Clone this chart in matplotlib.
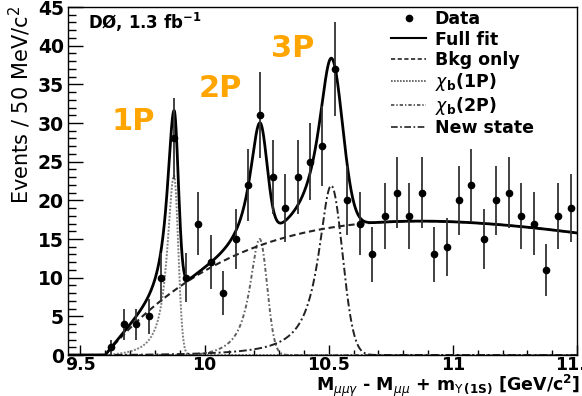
import numpy as np
import matplotlib
matplotlib.use("Agg")
import matplotlib.pyplot as plt
from matplotlib.lines import Line2D
from matplotlib.ticker import MultipleLocator

# histogram: 50 MeV bins starting at 9.45 GeV
bin_lo = 9.45
bin_width = 0.05
counts = [0, 0, 0, 1, 4, 4, 5, 10, 28, 10,
          17, 12, 8, 15, 22, 31, 23, 19, 23, 25,
          27, 37, 20, 17, 13, 18, 21, 18, 21, 13,
          14, 20, 22, 15, 20, 21, 18, 17, 11, 18,
          19]

# fit parameters: threshold background x0, norm, power, slope
bkg_par = [9.60, 36.8, 0.99, 0.78]
# peaks: mass, height, left width (Lorentz), right width (Gauss), low edge
chib1_par = [9.877, 23.2, 0.033, 0.017, 9.60]
chib2_par = [10.222, 15.0, 0.0486, 0.0296, 9.95]
new_par = [10.510, 21.9, 0.062, 0.045, 9.61]

x_range = [9.45, 11.5]
y_range = [0, 45]


def bkg_shape(x, x0, norm, power, slope):
    t = np.clip(x - x0, 0, None)
    return norm * t**power * np.exp(-slope * t)


def peak_shape(x, mass, height, gam, sig, lo):
    d = x - mass
    edge = 1.0 / (1.0 + ((lo - mass) / gam)**2)
    left = (1.0 / (1.0 + (d / gam)**2) - edge) / (1.0 - edge)
    left = np.clip(left, 0, None)
    right = np.exp(-0.5 * (d / sig)**2)
    return height * np.where(d < 0, left, right)


counts = np.array(counts, dtype=float)
centers = bin_lo + bin_width * (np.arange(len(counts)) + 0.5)
filled = counts > 0

xf = np.linspace(x_range[0], x_range[1], 4000)
bkg = bkg_shape(xf, *bkg_par)
c1 = peak_shape(xf, *chib1_par)
c2 = peak_shape(xf, *chib2_par)
c3 = peak_shape(xf, *new_par)
full = bkg + c1 + c2 + c3

fig = plt.figure(figsize=(5.82, 3.96), dpi=100)
ax = fig.add_axes([0.1168, 0.1035, 0.8746, 0.8788])

ax.plot(xf, c1, color="#808080", lw=1.4, ls=(0, (1, 0.8)))
ax.plot(xf, c2, color="#606060", lw=1.4, ls=(0, (2, 1.2, 0.8, 1.2)))
ax.plot(xf, c3, color="#222222", lw=1.4, ls=(0, (4, 1.5, 1, 1.5)))
ax.plot(xf, bkg, color="#222222", lw=1.5, ls=(0, (3, 1.8)))
ax.plot(xf, full, color="black", lw=2.0)

ax.errorbar(centers[filled], counts[filled], yerr=np.sqrt(counts[filled]),
            fmt="o", color="black", ecolor="#333333", ms=4.5, elinewidth=1.3,
            capsize=0, zorder=5)

ax.set_xlim(x_range)
ax.set_ylim(y_range)
ax.xaxis.set_major_locator(MultipleLocator(0.5))
ax.xaxis.set_minor_locator(MultipleLocator(0.1))
ax.yaxis.set_major_locator(MultipleLocator(5))
ax.yaxis.set_minor_locator(MultipleLocator(1))
ax.xaxis.set_major_formatter(plt.FuncFormatter(lambda v, p: f"{v:g}"))
ax.tick_params(which="both", direction="in", top=False, right=False,
               labelsize=13.5, width=1.0, colors="black")
ax.tick_params(axis="y", which="major", length=11, pad=3)
ax.tick_params(axis="y", which="minor", length=5.5)
ax.tick_params(axis="x", which="major", length=7, pad=1.0, labelsize=12.5)
ax.tick_params(axis="x", which="minor", length=3.5)
for lab in ax.get_xticklabels() + ax.get_yticklabels():
    lab.set_fontweight("bold")
for sp in ax.spines.values():
    sp.set_linewidth(1.0)

fig.text(580 / 582, 1 - 386 / 396,
         r"M$_{\mu\mu\gamma}$ - M$_{\mu\mu}$ + m$_{\Upsilon\,\mathbf{(1S)}}$ [GeV/c$^{\mathbf{2}}$]",
         ha="right", va="center", fontsize=12.5, fontweight="bold")
fig.text(20 / 582, 1 - 6 / 396, r"Events / 50 MeV/c$^{2}$",
         rotation=90, ha="center", va="top", fontsize=15)

ax.text(0.039, 0.955, r"DØ, 1.3 fb$^{\mathbf{-1}}$", transform=ax.transAxes,
        ha="left", va="center", fontsize=12, fontweight="bold")

orange = "#FFA500"
for lab, px, py in [("1P", 0.128, 0.672), ("2P", 0.299, 0.765), ("3P", 0.442, 0.880)]:
    ax.text(px, py, lab, transform=ax.transAxes, ha="center", va="center",
            fontsize=22, fontweight="bold", color=orange)

handles = [
    Line2D([], [], ls="none", marker="o", ms=4.5, color="black"),
    Line2D([], [], color="black", lw=1.5),
    Line2D([], [], color="#222222", lw=1.2, ls=(0, (2.5, 1.5))),
    Line2D([], [], color="#555555", lw=1.2, ls=(0, (1, 0.8))),
    Line2D([], [], color="#444444", lw=1.2, ls=(0, (2, 1.2, 0.8, 1.2))),
    Line2D([], [], color="#222222", lw=1.2, ls=(0, (4, 1.5, 1, 1.5))),
]
labels = ["Data", "Full fit", "Bkg only", r"$\chi_{\mathbf{b}}$(1P)",
          r"$\chi_{\mathbf{b}}$(2P)", "New state"]
leg = ax.legend(handles, labels, loc="upper left", bbox_to_anchor=(0.635, 0.99),
                frameon=False, handlelength=2.0, handletextpad=0.5,
                labelspacing=0.12, borderpad=0, borderaxespad=0,
                prop={"size": 12.5, "weight": "bold"})

fig.savefig("out.png", dpi=100)
